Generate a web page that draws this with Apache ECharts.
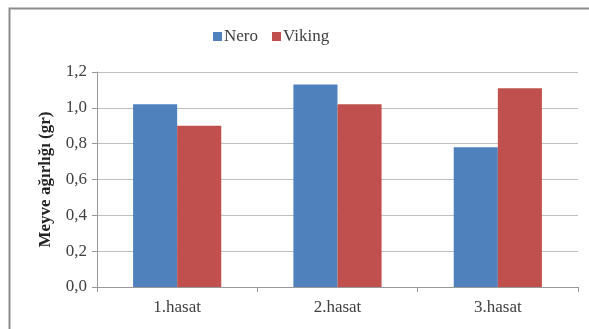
<!DOCTYPE html>
<html><head><meta charset="utf-8">
<script src="https://cdn.jsdelivr.net/npm/echarts@6/dist/echarts.min.js"></script>
<style>html,body{margin:0;padding:0;background:#fff}#c{width:589px;height:329px}</style>
</head><body><div id="c"></div>
<script>
const categories = ['1.hasat', '2.hasat', '3.hasat'];
const neroValues = [1.02, 1.13, 0.78];
const vikingValues = [0.90, 1.02, 1.11];
const yTicks = [0, 0.2, 0.4, 0.6, 0.8, 1.0, 1.2];

const font = '"Liberation Serif", "Times New Roman", serif';
const chart = echarts.init(document.getElementById('c'));
chart.setOption({
  animation: false,
  textStyle: { fontFamily: font },
  graphic: [{
    type: 'rect', left: 7, top: 6,
    shape: { width: 600, height: 340 },
    style: { fill: 'none', stroke: '#8c8c8c', lineWidth: 2 }, silent: true
  }],
  legend: {
    top: 23, left: 208, itemWidth: 9, itemHeight: 9, itemGap: 14,
    textStyle: { fontFamily: font, fontSize: 17, color: '#404040', padding: [0, 0, 0, -3] },
    data: [{ name: 'Nero', icon: 'rect' }, { name: 'Viking', icon: 'rect' }]
  },
  grid: { left: 97, right: 11, top: 72, bottom: 42 },
  xAxis: {
    type: 'category', data: categories,
    axisLine: { lineStyle: { color: '#999' } },
    axisTick: { show: true, length: 5, lineStyle: { color: '#999' } },
    axisLabel: { fontFamily: font, fontSize: 17, color: '#404040', margin: 12 }
  },
  yAxis: {
    type: 'value', min: 0, max: 1.2, interval: 0.2,
    name: 'Meyve ağırlığı (gr)', nameLocation: 'middle', nameGap: 43,
    nameTextStyle: { fontFamily: font, fontSize: 17, fontWeight: 'bold', color: '#222' },
    axisLine: { show: true, lineStyle: { color: '#999' } },
    axisTick: { show: true, length: 5, lineStyle: { color: '#999' } },
    splitLine: { lineStyle: { color: '#bfbfbf' } },
    axisLabel: {
      fontFamily: font, fontSize: 17, color: '#404040', margin: 10,
      formatter: v => { const t = yTicks.find(x => Math.abs(x - v) < 1e-9); return (t !== undefined ? t : v).toFixed(1).replace('.', ','); }
    }
  },
  series: [
    { name: 'Nero', type: 'bar', data: neroValues, itemStyle: { color: '#4F81BD' }, barGap: '0%', barCategoryGap: '45%' },
    { name: 'Viking', type: 'bar', data: vikingValues, itemStyle: { color: '#C0504D' }, barGap: '0%', barCategoryGap: '45%' }
  ]
});
</script></body></html>
